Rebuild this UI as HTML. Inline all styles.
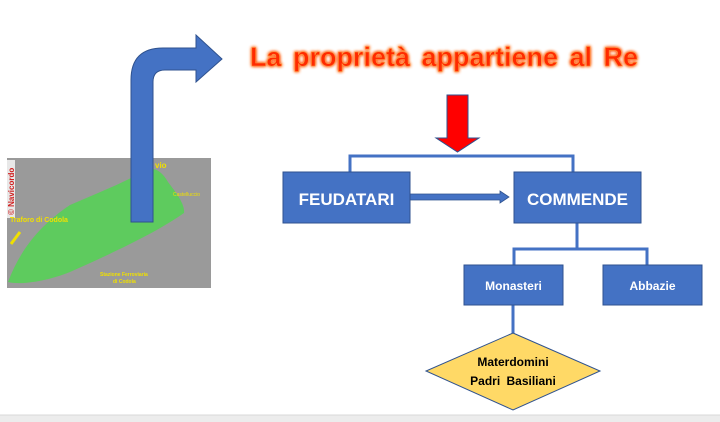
<!DOCTYPE html>
<html><head><meta charset="utf-8"><style>
html,body{margin:0;padding:0;background:#fff;width:720px;height:422px;overflow:hidden}
svg{display:block}
</style></head><body>
<svg width="720" height="422" viewBox="0 0 720 422" xmlns="http://www.w3.org/2000/svg" font-family="Liberation Sans, sans-serif">
<defs>
<filter id="glow"><feGaussianBlur stdDeviation="1.6" result="b"/><feMerge><feMergeNode in="b"/><feMergeNode in="b"/><feMergeNode in="SourceGraphic"/></feMerge></filter>
</defs>
<!-- photo -->
<rect x="7" y="158" width="204" height="130" fill="#9a9a9a"/>
<path d="M8 282 C20 250 40 225 70 205 C100 192 125 182 140 173 C150 165 160 168 168 182 C178 195 185 205 184 213 C160 230 120 250 70 272 C45 282 20 285 8 282 Z" fill="#58d058" opacity="0.9"/>
<rect x="7" y="160" width="8" height="58" fill="#e8e8e8"/>
<text x="14" y="215" transform="rotate(-90 14 215)" font-size="8" font-weight="bold" fill="#d02020">© Navicordo</text>
<text x="10" y="222" font-size="7" font-weight="bold" fill="#f0e000">Traforo di Codola</text>
<text x="155" y="168" font-size="8" font-weight="bold" fill="#f0e000">vio</text>
<text x="173" y="196" font-size="5" fill="#f0e000">Castelluccio</text>
<text x="100" y="276" font-size="5" font-weight="bold" fill="#f0e000">Stazione Ferroviaria</text>
<text x="113" y="283" font-size="5" font-weight="bold" fill="#f0e000">di Codola</text>
<path d="M20 232 L11 244" stroke="#f0e000" stroke-width="3"/>
<!-- blue bent arrow -->
<path d="M131 222 L131 80 Q131 48 163 48 L196 48 L196 35 L222 59 L196 82 L196 70 L165 70 Q153 70 153 82 L153 222 Z" fill="#4472c4" stroke="#2f528f" stroke-width="1"/>
<!-- title -->
<text x="444" y="66" text-anchor="middle" font-size="27" font-weight="bold" fill="#ff2a00" stroke="#ff9a40" stroke-width="0.6" filter="url(#glow)" word-spacing="4">La proprietà appartiene al Re</text>
<!-- red arrow -->
<path d="M447 95 L468 95 L468 138 L479 138 L457.5 152 L436 138 L447 138 Z" fill="#ff0000" stroke="#2f528f" stroke-width="1"/>
<!-- connectors -->
<g stroke="#4472c4" stroke-width="3" fill="none">
<path d="M350 172 L350 156 L573 156 L573 172"/>
<path d="M577 223 L577 249 M514 265 L514 249 L647 249 L647 265"/>
<path d="M513 305 L513 333"/>
</g>
<path d="M410 194 L500 194 L500 191 L509 197 L500 203 L500 200 L410 200 Z" fill="#4472c4" stroke="#2f528f" stroke-width="0.8"/>
<!-- boxes -->
<g fill="#4472c4" stroke="#2f528f" stroke-width="1">
<rect x="283" y="172" width="127" height="51"/>
<rect x="514" y="172" width="127" height="51"/>
<rect x="464" y="265" width="99" height="40"/>
<rect x="603" y="265" width="99" height="40"/>
</g>
<g fill="#fff" font-weight="bold" text-anchor="middle">
<text x="346.5" y="205" font-size="17">FEUDATARI</text>
<text x="577.5" y="205" font-size="17">COMMENDE</text>
<text x="513.5" y="290" font-size="12">Monasteri</text>
<text x="652.5" y="290" font-size="12">Abbazie</text>
</g>
<path d="M513 333 L600 371 L513 410 L426 371 Z" fill="#ffd966" stroke="#2f528f" stroke-width="1"/>
<g font-size="12" font-weight="bold" text-anchor="middle" fill="#000">
<text x="513" y="366">Materdomini</text>
<text x="513" y="385" word-spacing="3">Padri Basiliani</text>
</g>
<rect x="0" y="415" width="720" height="7" fill="#ececec"/>
<line x1="0" y1="415" x2="720" y2="415" stroke="#d8d8d8"/>
</svg>
</body></html>
